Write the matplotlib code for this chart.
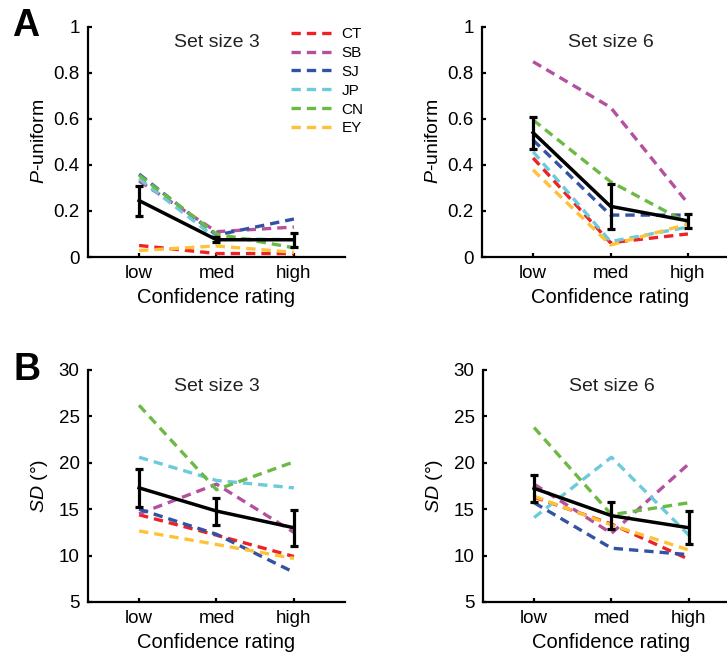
import matplotlib
matplotlib.use("Agg")
import matplotlib.pyplot as plt
import numpy as np

plt.rcParams['font.family'] = ['Liberation Sans', 'DejaVu Sans']
plt.rcParams['mathtext.fontset'] = 'custom'
plt.rcParams['mathtext.rm'] = 'Liberation Sans'
plt.rcParams['mathtext.it'] = 'Liberation Sans:italic'

# ---- data ----
conf_labels = ['low', 'med', 'high']
subjects = ['CT', 'SB', 'SJ', 'JP', 'CN', 'EY']
colors = ['#ec2227', '#b4519e', '#3452a3', '#6ccbdb', '#6cb945', '#fdc236']

# P-uniform, set size 3
pu3_CT = [0.050, 0.015, 0.015]
pu3_SB = [0.330, 0.110, 0.130]
pu3_SJ = [0.360, 0.095, 0.165]
pu3_JP = [0.340, 0.080, 0.075]
pu3_CN = [0.355, 0.100, 0.040]
pu3_EY = [0.028, 0.048, 0.020]
pu3_mean = [0.245, 0.075, 0.075]
pu3_err = [0.065, 0.010, 0.030]

# P-uniform, set size 6
pu6_CT = [0.430, 0.062, 0.100]
pu6_SB = [0.848, 0.650, 0.233]
pu6_SJ = [0.508, 0.182, 0.182]
pu6_JP = [0.457, 0.067, 0.130]
pu6_CN = [0.595, 0.327, 0.147]
pu6_EY = [0.378, 0.052, 0.143]
pu6_mean = [0.540, 0.220, 0.157]
pu6_err = [0.070, 0.098, 0.031]

# SD, set size 3
sd3_CT = [14.4, 12.2, 9.9]
sd3_SB = [14.5, 17.7, 12.5]
sd3_SJ = [15.0, 12.3, 8.2]
sd3_JP = [20.6, 18.1, 17.3]
sd3_CN = [26.2, 17.1, 20.1]
sd3_EY = [12.65, 11.2, 9.7]
sd3_mean = [17.3, 14.8, 13.0]
sd3_err = [2.05, 1.45, 1.95]

# SD, set size 6
sd6_CT = [16.3, 13.4, 9.6]
sd6_SB = [17.7, 12.4, 19.9]
sd6_SJ = [15.7, 10.8, 10.1]
sd6_JP = [14.1, 20.6, 12.2]
sd6_CN = [23.8, 14.4, 15.7]
sd6_EY = [16.4, 13.3, 10.6]
sd6_mean = [17.25, 14.3, 13.0]
sd6_err = [1.45, 1.45, 1.8]

panels = [
    dict(series=[pu3_CT, pu3_SB, pu3_SJ, pu3_JP, pu3_CN, pu3_EY], mean=pu3_mean, err=pu3_err,
         title='Set size 3', kind='pu'),
    dict(series=[pu6_CT, pu6_SB, pu6_SJ, pu6_JP, pu6_CN, pu6_EY], mean=pu6_mean, err=pu6_err,
         title='Set size 6', kind='pu'),
    dict(series=[sd3_CT, sd3_SB, sd3_SJ, sd3_JP, sd3_CN, sd3_EY], mean=sd3_mean, err=sd3_err,
         title='Set size 3', kind='sd'),
    dict(series=[sd6_CT, sd6_SB, sd6_SJ, sd6_JP, sd6_CN, sd6_EY], mean=sd6_mean, err=sd6_err,
         title='Set size 6', kind='sd'),
]

W, H = 727, 660
fig = plt.figure(figsize=(W / 100, H / 100), dpi=100)

# axes rectangles in pixels: left, top, width, height
rects = [(88, 26.7, 257, 230.3), (482, 26.7, 257, 230.3),
         (88, 370, 257, 232), (483, 370, 257, 232)]

x = np.arange(1, 4)
for i, (p, r) in enumerate(zip(panels, rects)):
    l, t, w, h = r
    ax = fig.add_axes([l / W, 1 - (t + h) / H, w / W, h / H])
    for s, c, name in zip(p['series'], colors, subjects):
        ax.plot(x, s, color=c, lw=2.4, linestyle=(0, (2.8, 1.8)), label=name, zorder=2)
    ax.errorbar(x, p['mean'], yerr=p['err'], color='black', lw=2.5, capsize=3,
                capthick=2.3, elinewidth=2.3, zorder=5)
    ax.set_xlim(0.34, 3.66)
    ax.set_xticks(x)
    ax.set_xticklabels(conf_labels)
    if p['kind'] == 'pu':
        ax.set_ylim(0, 1)
        ax.set_yticks([0, 0.2, 0.4, 0.6, 0.8, 1])
        ax.set_yticklabels(['0', '0.2', '0.4', '0.6', '0.8', '1'])
        ax.set_ylabel(r'$\mathit{P}$-uniform', fontsize=14, labelpad=4)
    else:
        ax.set_ylim(5, 30)
        ax.set_yticks([5, 10, 15, 20, 25, 30])
        ax.set_ylabel(r'$\mathit{SD}$ (°)', fontsize=14, labelpad=6)
    ax.set_xlabel('Confidence rating', fontsize=14.5, labelpad=4)
    for sp in ['top', 'right']:
        ax.spines[sp].set_visible(False)
    for sp in ['left', 'bottom']:
        ax.spines[sp].set_linewidth(1.6)
    ax.tick_params(direction='in', length=3, width=1.6, labelsize=13.5, pad=6)
    ax.text(0.5, 0.93, p['title'], transform=ax.transAxes, ha='center', va='center',
            fontsize=14, color='#222222')
    if i == 0:
        leg = ax.legend(loc='upper left', bbox_to_anchor=(291 / W, 1 - 27 / H),
                        bbox_transform=fig.transFigure, frameon=False, fontsize=11,
                        handlelength=3.0, handletextpad=0.3, labelspacing=0.32,
                        borderpad=0, borderaxespad=0)

fig.text(12 / W, 1 - 26 / H, 'A', fontsize=27, fontweight='bold', va='center', ha='left')
fig.text(13 / W, 1 - 370 / H, 'B', fontsize=27, fontweight='bold', va='center', ha='left')

fig.savefig('out.png', dpi=100)
